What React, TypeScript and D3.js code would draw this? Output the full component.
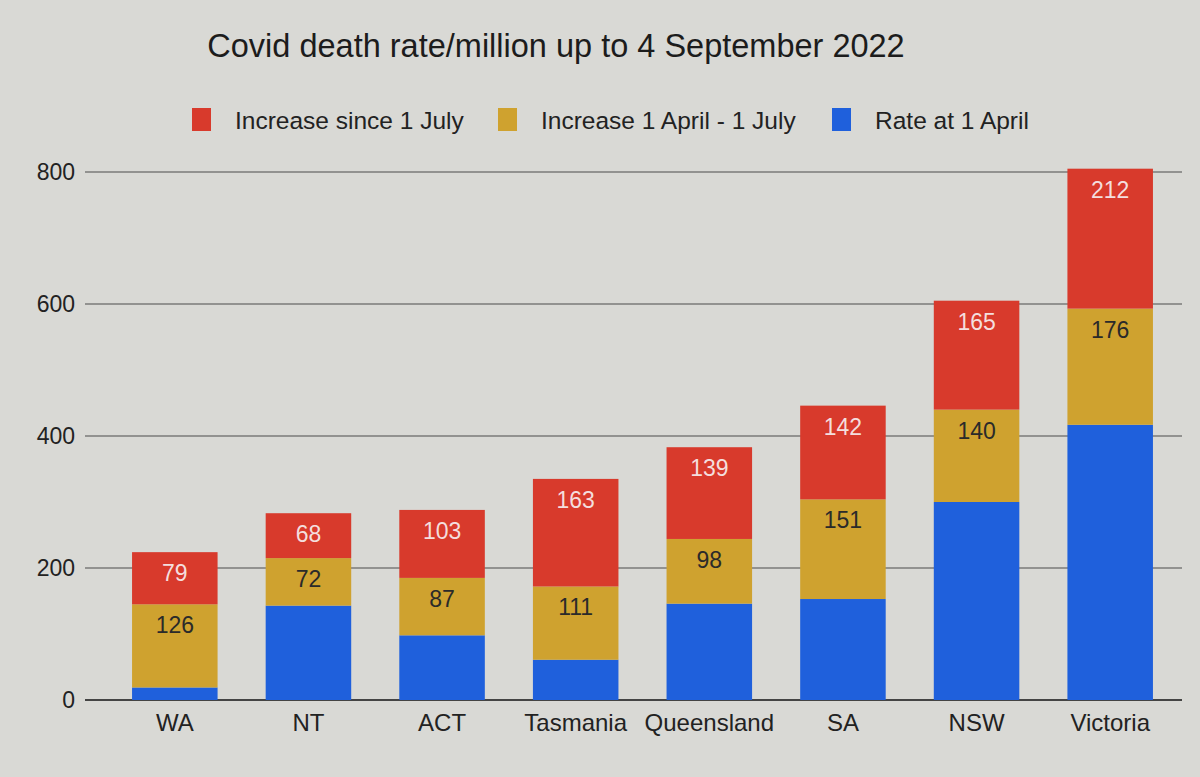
import { useMemo } from "react";
import * as d3 from "d3";

const states = ["WA", "NT", "ACT", "Tasmania", "Queensland", "SA", "NSW", "Victoria"];
const rateAt1April = [19, 143, 98, 61, 146, 153, 300, 417];
const increaseAprJul = [126, 72, 87, 111, 98, 151, 140, 176];
const increaseSinceJul = [79, 68, 103, 163, 139, 142, 165, 212];
const yTicks = [0, 200, 400, 600, 800];

const seriesKeys = ["rate", "aprJul", "sinceJul"] as const;
const seriesColors: Record<string, string> = {
  rate: "#1f60dc",
  aprJul: "#cfa22f",
  sinceJul: "#d83a2c",
};
const labelColors: Record<string, string> = {
  aprJul: "#2a2a2a",
  sinceJul: "#f4dede",
};
const legendItems = [
  { key: "sinceJul", label: "Increase since 1 July", x: 192 },
  { key: "aprJul", label: "Increase 1 April - 1 July", x: 498 },
  { key: "rate", label: "Rate at 1 April", x: 832 },
];

const W = 1200;
const H = 777;
const font = "'Liberation Sans', Arial, sans-serif";

export default function App() {
  const { x, y, stacked } = useMemo(() => {
    const rows = states.map((s, i) => ({
      state: s,
      rate: rateAt1April[i],
      aprJul: increaseAprJul[i],
      sinceJul: increaseSinceJul[i],
    }));
    const x = d3.scaleBand<string>().domain(states).range([108, 1177]).paddingInner(0.36).paddingOuter(0.18);
    const y = d3.scaleLinear().domain([0, 800]).range([700, 172]);
    const stacked = d3.stack<any>().keys(seriesKeys as unknown as string[])(rows);
    return { x, y, stacked };
  }, []);

  return (
    <svg width={W} height={H} style={{ display: "block", position: "absolute", left: 0, top: 0 }}>
      <rect width={W} height={H} fill="#d9d9d5" />
      <text x={556} y={57} textAnchor="middle" fontFamily={font} fontSize={32.5} fill="#1c1c1c">
        Covid death rate/million up to 4 September 2022
      </text>

      {legendItems.map((d) => (
        <g key={d.key}>
          <rect x={d.x} y={108} width={19} height={23} fill={seriesColors[d.key]} />
          <text x={d.x + 43} y={129} fontFamily={font} fontSize={24.5} fill="#222">
            {d.label}
          </text>
        </g>
      ))}

      {yTicks.map((t) => (
        <g key={t}>
          <line x1={85} x2={1182} y1={y(t)} y2={y(t)} stroke={t === 0 ? "#444" : "#7a7a78"} strokeWidth={t === 0 ? 2 : 1.5} />
          <text x={75} y={y(t) + 8} textAnchor="end" fontFamily={font} fontSize={23} fill="#222">
            {t}
          </text>
        </g>
      ))}

      {stacked.map((layer) => (
        <g key={layer.key}>
          {layer.map((seg, i) => {
            const x0 = x(states[i]) ?? 0;
            const top = y(seg[1]);
            const h = y(seg[0]) - top;
            return (
              <g key={states[i]}>
                <rect x={x0} y={top} width={x.bandwidth()} height={h} fill={seriesColors[layer.key]} />
                {layer.key !== "rate" && (
                  <text
                    x={x0 + x.bandwidth() / 2}
                    y={top + 29}
                    textAnchor="middle"
                    fontFamily={font}
                    fontSize={23}
                    fill={labelColors[layer.key]}
                  >
                    {seg[1] - seg[0]}
                  </text>
                )}
              </g>
            );
          })}
        </g>
      ))}

      {states.map((s) => (
        <text
          key={s}
          x={(x(s) ?? 0) + x.bandwidth() / 2}
          y={731}
          textAnchor="middle"
          fontFamily={font}
          fontSize={24}
          fill="#222"
        >
          {s}
        </text>
      ))}
    </svg>
  );
}
